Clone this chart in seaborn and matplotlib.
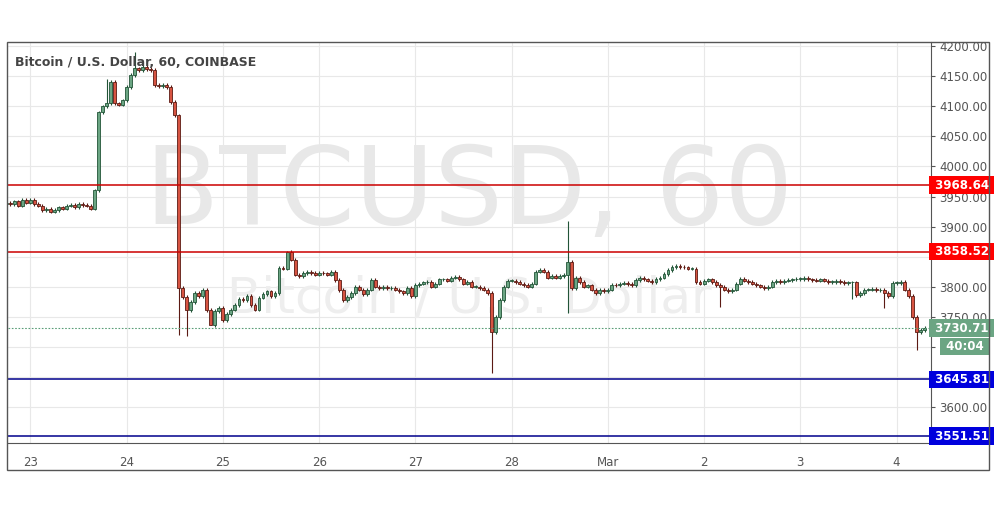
import numpy as np
import pandas as pd
import matplotlib
matplotlib.use("Agg")
import matplotlib.pyplot as plt
import seaborn as sns
from matplotlib.patches import Rectangle

# hourly closes, starting Feb 22 18:00
feb22 = [3940, 3938, 3942, 3935, 3944, 3940]
feb23 = [3945, 3938, 3935, 3928, 3930, 3925, 3928, 3932, 3930, 3935, 3936, 3932,
         3938, 3936, 3935, 3930, 3960, 4090, 4100, 4105, 4140, 4105, 4103, 4110]
feb24 = [4132, 4152, 4163, 4160, 4165, 4162, 4160, 4135, 4133, 4135, 4132, 4107,
         4085, 3798, 3783, 3761, 3775, 3790, 3785, 3795, 3761, 3736, 3760, 3765]
feb25 = [3745, 3755, 3762, 3770, 3780, 3778, 3785, 3770, 3762, 3782, 3788, 3792,
         3785, 3790, 3831, 3830, 3858, 3845, 3820, 3818, 3823, 3825, 3823, 3820]
feb26 = [3823, 3822, 3820, 3825, 3811, 3794, 3778, 3783, 3790, 3800, 3795, 3788,
         3795, 3811, 3800, 3798, 3800, 3797, 3798, 3795, 3792, 3790, 3798, 3785]
feb27 = [3803, 3805, 3807, 3808, 3800, 3805, 3812, 3812, 3810, 3815, 3816, 3812,
         3805, 3808, 3800, 3800, 3798, 3795, 3790, 3725, 3750, 3778, 3800, 3810]
feb28 = [3810, 3808, 3805, 3803, 3800, 3805, 3825, 3828, 3825, 3815, 3818, 3815,
         3818, 3820, 3841, 3798, 3815, 3808, 3800, 3802, 3795, 3790, 3795, 3792]
mar01 = [3795, 3803, 3802, 3805, 3806, 3804, 3802, 3811, 3815, 3812, 3810, 3808,
         3813, 3815, 3821, 3828, 3833, 3835, 3833, 3832, 3830, 3830, 3808, 3805]
mar02 = [3810, 3812, 3808, 3803, 3800, 3795, 3792, 3795, 3805, 3813, 3810, 3808,
         3805, 3802, 3800, 3798, 3800, 3808, 3810, 3808, 3810, 3811, 3812, 3813]
mar03 = [3813, 3814, 3812, 3811, 3810, 3812, 3810, 3808, 3808, 3809, 3808, 3806,
         3807, 3807, 3786, 3790, 3795, 3795, 3796, 3794, 3795, 3790, 3785, 3806]
mar04 = [3806, 3808, 3795, 3785, 3750, 3725, 3728, 3731]

# notable wick extremes: hour index (from Feb 23 00:00) -> value
spike_highs = {19: 4145, 26: 4190, 64: 3860, 134: 3910}
spike_lows = {37: 3720, 39: 3718, 45: 3736, 115: 3657, 134: 3757, 172: 3766,
              205: 3780, 213: 3765, 221: 3695}

levels_red = [3968.64, 3858.52]
levels_blue = [3645.81, 3551.51]
last_price = 3730.71
day_labels = ["23", "24", "25", "26", "27", "28", "Mar", "2", "3", "4"]
y_ticks = list(range(3600, 4201, 50))
hidden_tick_labels = [3650, 3700, 3850]

closes = feb22 + feb23 + feb24 + feb25 + feb26 + feb27 + feb28 + mar01 + mar02 + mar03 + mar04
hours = np.arange(len(closes)) - len(feb22)
opens = [closes[0] - 2] + closes[:-1]
df = pd.DataFrame({"h": hours, "o": opens, "c": closes})
df["hi"] = df[["o", "c"]].max(axis=1) + 3
df["lo"] = df[["o", "c"]].min(axis=1) - 3
for k, v in spike_highs.items():
    df.loc[df.h == k, "hi"] = v
for k, v in spike_lows.items():
    df.loc[df.h == k, "lo"] = v
df["up"] = df.c >= df.o

sns.set_style("white")
plt.rcParams["font.family"] = ["DejaVu Sans"]
fig = plt.figure(figsize=(9.95, 5.07), dpi=100)
W, H = 995, 507
ax = fig.add_axes([8 / W, (H - 443) / H, (931 - 8) / W, (443 - 42) / H])
ax.set_xlim(-5.6, 224.6)
ax.set_ylim(3540, 4207)

for t in y_ticks:
    ax.axhline(t, color="#e8e8e8", lw=0.8, zorder=0)
for i in range(len(day_labels)):
    ax.axvline(i * 24, color="#e8e8e8", lw=0.8, zorder=0)

ax.text(0.5, 0.62, "BTCUSD, 60", transform=ax.transAxes, ha="center", va="center",
        fontsize=78, color="#e8e8e8", zorder=0.5)
ax.text(0.5, 0.36, "Bitcoin / U.S. Dollar", transform=ax.transAxes, ha="center", va="center",
        fontsize=36, color="#eeeeee", zorder=0.5)

up_fill, up_edge = "#6ba583", "#225437"
dn_fill, dn_edge = "#d75442", "#5b1a13"
ax.vlines(df.h, df.lo, df.hi, colors=np.where(df.up, up_edge, dn_edge), lw=0.8, zorder=2)
body = (df.c - df.o).abs().clip(lower=1.2)
ax.bar(df.h, body, bottom=df[["o", "c"]].min(axis=1), width=0.72,
       color=np.where(df.up, up_fill, dn_fill), edgecolor=np.where(df.up, up_edge, dn_edge),
       linewidth=0.6, zorder=3)

for v in levels_red:
    ax.axhline(v, color="#cc0000", lw=1.1, zorder=4)
for v in levels_blue:
    ax.axhline(v, color="#00008b", lw=1.1, zorder=4)
ax.axhline(last_price, color="#5a9e78", lw=0.8, ls=(0, (1.5, 1.5)), zorder=4)

ax.set_xticks([i * 24 for i in range(len(day_labels))])
ax.set_xticklabels(day_labels, fontsize=8.5, color="#555555")
ax.tick_params(axis="x", length=3, color="#555555", pad=6)
ax.yaxis.tick_right()
ax.set_yticks(y_ticks)
ax.set_yticklabels(["" if t in hidden_tick_labels else f"{t:.2f}" for t in y_ticks],
                   fontsize=8.5, color="#555555")
ax.tick_params(axis="y", length=3, color="#555555", pad=3)
for s in ["top", "left"]:
    ax.spines[s].set_visible(False)
for s in ["bottom", "right"]:
    ax.spines[s].set_color("#555555")

def tag(v, txt, color, xoff=0.0, fs=8.5):
    ax.text(1.0 + xoff, v, txt, transform=ax.get_yaxis_transform(), ha="left", va="center",
            fontsize=fs, color="white", fontweight="bold", zorder=6,
            bbox=dict(boxstyle="square,pad=0.2", fc=color, ec="none"))

tag(levels_red[0], " 3968.64 ", "#ff0000")
tag(levels_red[1], " 3858.52 ", "#ff0000")
tag(levels_blue[0], " 3645.81 ", "#0000dd")
tag(levels_blue[1], " 3551.51 ", "#0000dd")
tag(last_price, " 3730.71 ", "#6ba583")
tag(last_price - 30, " 40:04 ", "#6ba583", xoff=0.012)

ax.text(0.008, 0.965, "Bitcoin / U.S. Dollar, 60, COINBASE", transform=ax.transAxes,
        fontsize=9, fontweight="bold", color="#444444", va="top", zorder=6)

fig.patches.append(Rectangle((7 / W, (H - 470) / H), (989 - 7) / W, (470 - 42) / H,
                             transform=fig.transFigure, fill=False, ec="#555555", lw=1))
fig.savefig("out.png", dpi=100)
